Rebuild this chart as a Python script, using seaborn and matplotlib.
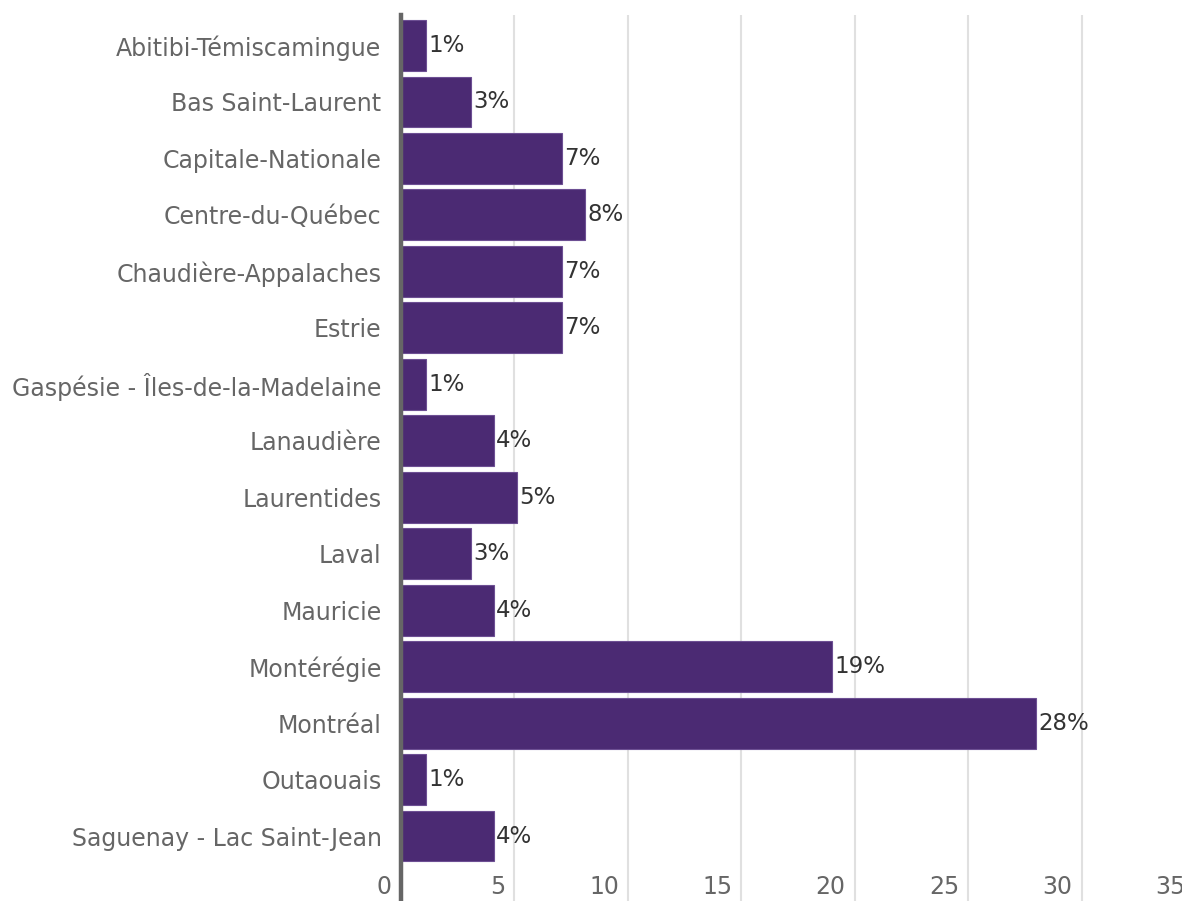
import matplotlib
matplotlib.use("Agg")
import matplotlib.pyplot as plt
import matplotlib.transforms as mtransforms
import seaborn as sns
import pandas as pd

regions = [
    "Abitibi-Témiscamingue", "Bas Saint-Laurent", "Capitale-Nationale",
    "Centre-du-Québec", "Chaudière-Appalaches", "Estrie",
    "Gaspésie - Îles-de-la-Madelaine", "Lanaudière", "Laurentides", "Laval",
    "Mauricie", "Montérégie", "Montréal", "Outaouais",
    "Saguenay - Lac Saint-Jean",
]
values = [1.1, 3.1, 7.1, 8.1, 7.1, 7.1, 1.1, 4.1, 5.1, 3.1, 4.1, 19.0, 28.0, 1.1, 4.1]
value_labels = ["1%", "3%", "7%", "8%", "7%", "7%", "1%", "4%", "5%", "3%", "4%", "19%", "28%", "1%", "4%"]
x_ticks = [0, 5, 10, 15, 20, 25, 30, 35]

df = pd.DataFrame({"region": regions, "value": values})

sns.set_theme(style="white")
plt.rcParams["font.family"] = ["DejaVu Sans"]

fig = plt.figure(figsize=(11.82, 9.01), dpi=100)
W, H = 1182, 901
ax = fig.add_axes([401 / W, 0, (1195 - 401) / W, (901 - 15) / H])

sns.barplot(data=df, x="value", y="region", orient="h", color="#4b2a73",
            saturation=1, width=0.9, edgecolor="#6d4f93", linewidth=0.8, ax=ax,
            zorder=3)

ax.set_xlim(0, 35)
ax.set_ylim(15.15, -0.54)
ax.set_xticks(x_ticks)
ax.set_xticklabels([])
ax.xaxis.grid(True, color="#e0e0e0", linewidth=1.5, zorder=0)
ax.set_axisbelow(True)
ax.set_xlabel("")
ax.set_ylabel("")
for s in ["top", "right", "bottom"]:
    ax.spines[s].set_visible(False)
ax.spines["left"].set_color("#666666")
ax.spines["left"].set_linewidth(3.2)
ax.spines["left"].set_zorder(5)

ax.tick_params(axis="y", length=0, pad=14, labelsize=17, labelcolor="#666666")
ax.tick_params(axis="x", length=0)

for i, (v, lab) in enumerate(zip(values, value_labels)):
    ax.text(v + 0.1, i, lab, va="center", ha="left", fontsize=16.5, color="#333333", zorder=6)

trans = ax.get_xaxis_transform()
off = mtransforms.offset_copy(trans, fig=fig, x=-9, y=2, units="dots")
for t in x_ticks:
    ax.text(t, 0, str(t), transform=off, ha="right", va="bottom",
            fontsize=17, color="#666666", clip_on=False)

fig.savefig("out.png", dpi=100)
